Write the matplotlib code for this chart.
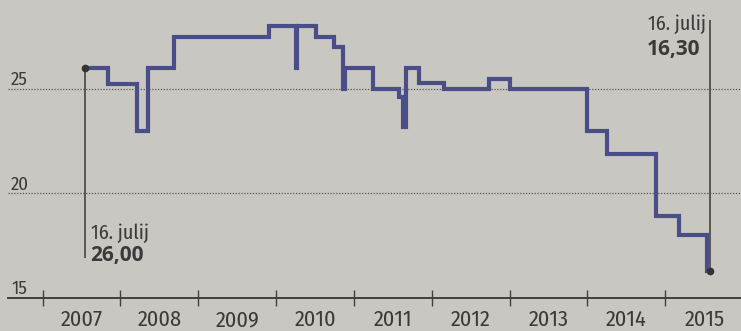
import matplotlib
matplotlib.use("Agg")
import matplotlib.pyplot as plt
from matplotlib.ticker import FixedLocator, NullFormatter

# ---- data (decimal years, step values) ----
dates = [2007.54, 2007.84, 2008.22, 2008.35, 2008.69, 2009.91, 2010.25, 2010.27,
         2010.51, 2010.74, 2010.86, 2010.88, 2011.25, 2011.58, 2011.63, 2011.67,
         2011.84, 2012.16, 2012.73, 2013.01, 2013.99, 2014.25, 2014.88, 2015.18,
         2015.53, 2015.57]
values = [26.0, 25.25, 23.0, 26.0, 27.5, 28.0, 26.0, 28.0,
          27.5, 27.0, 25.0, 26.0, 25.0, 24.6, 23.2, 26.0,
          25.3, 25.0, 25.5, 25.0, 23.0, 21.9, 18.9, 18.0,
          16.3, 16.3]
years = list(range(2007, 2016))
year_labels = [str(y) for y in years]
y_ticks = [15, 20, 25]
start_label = ("16. julij", "26,00")
end_label = ("16. julij", "16,30")

BG = "#c9c7c1"
LINE = "#4a4e88"
TXT = "#3a3a3a"
NARROW = ["Fira Sans Condensed", "Roboto Condensed", "IBM Plex Sans Condensed", "DejaVu Sans"]
BOLD = ["Open Sans", "DejaVu Sans"]

W, H = 741, 331
fig = plt.figure(figsize=(W / 100, H / 100), dpi=100, facecolor=BG)
ax = fig.add_axes([8 / W, 33 / H, 733 / W, 298 / H])
ax.set_facecolor("none")

px_per_year = 77.85
px_per_unit = 20.9
ax.set_xlim(2007 - (42.5 - 8) / px_per_year, 2007 + (741 - 42.5) / px_per_year)
ax.set_ylim(15, 15 + 298 / px_per_unit)

for s in ["top", "left", "right"]:
    ax.spines[s].set_visible(False)
ax.spines["bottom"].set_color("#404040")
ax.spines["bottom"].set_linewidth(1.4)

# x ticks: majors at year boundaries, labels at mid-year
ax.xaxis.set_major_locator(FixedLocator(years))
ax.xaxis.set_major_formatter(NullFormatter())
ax.set_xticks([y + 0.5 for y in years], minor=True)
ax.set_xticklabels(year_labels, minor=True, fontsize=16, color=TXT, family=NARROW)
ax.tick_params(axis="x", which="major", direction="inout", length=11, width=1.0, color="#404040")
ax.tick_params(axis="x", which="minor", length=0, pad=8)

# y ticks: labels inside, above dotted gridlines
ax.set_yticks(y_ticks)
ax.set_yticklabels([str(v) for v in y_ticks], fontsize=13.5, color=TXT, family=NARROW)
ax.tick_params(axis="y", length=0, pad=-2.2)
for lab in ax.get_yticklabels():
    lab.set_horizontalalignment("left")
    lab.set_verticalalignment("bottom")
ax.yaxis.grid(True, linestyle=(0, (1, 1.3)), color="#555555", linewidth=0.9)
ax.set_axisbelow(True)

# main step line
ax.step(dates, values, where="post", color=LINE, linewidth=3.0, solid_joinstyle="miter", zorder=3)

# annotation lines + endpoint dots
ax.vlines(dates[0], 16.9, values[0], color="#3a3a3a", linewidth=1.1, zorder=2)
ax.vlines(dates[-1], values[-1], 28.3, color="#3a3a3a", linewidth=1.1, zorder=2)
ax.plot([dates[0], dates[-1]], [values[0], values[-1]], "o", color="#333333",
        markersize=4.5, zorder=4)

# annotation texts
ax.annotate(start_label[0], xy=(dates[0], 16.9), xytext=(6, 19), textcoords="offset pixels",
            ha="left", va="baseline", fontsize=14.5, color=TXT, family=NARROW)
ax.annotate(start_label[1], xy=(dates[0], 16.9), xytext=(6, -3), textcoords="offset pixels",
            ha="left", va="baseline", fontsize=15, color=TXT, family=BOLD, fontweight="bold")
ax.annotate(end_label[0], xy=(dates[-1], 28.3), xytext=(-4, -10), textcoords="offset pixels",
            ha="right", va="baseline", fontsize=14.5, color=TXT, family=NARROW)
ax.annotate(end_label[1], xy=(dates[-1], 28.3), xytext=(-9, -35), textcoords="offset pixels",
            ha="right", va="baseline", fontsize=15, color=TXT, family=BOLD, fontweight="bold")

fig.savefig("out.png", dpi=100, facecolor=BG)
